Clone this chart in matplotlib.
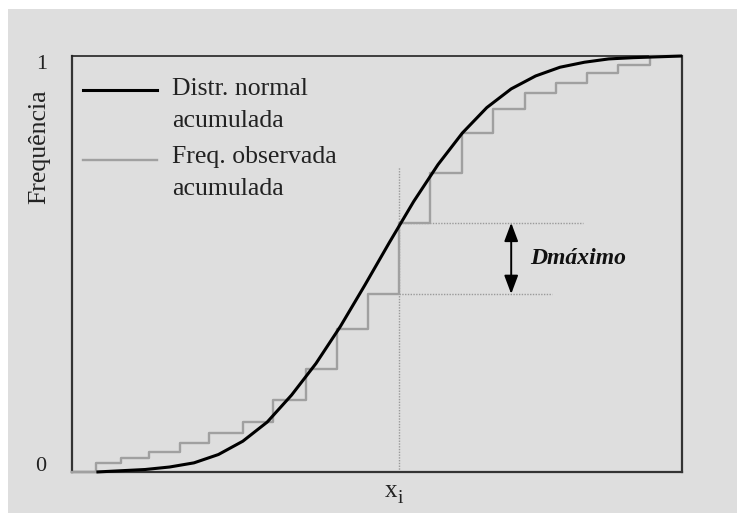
import matplotlib
matplotlib.use('Agg')
import matplotlib.pyplot as plt
from matplotlib.patches import Rectangle
from matplotlib.lines import Line2D

# curva normal acumulada
normal_x = [0.04, 0.08, 0.12, 0.16, 0.20, 0.24, 0.28, 0.32, 0.36, 0.40, 0.44, 0.48, 0.52,
            0.56, 0.60, 0.64, 0.68, 0.72, 0.76, 0.80, 0.84, 0.88, 0.92, 0.96, 1.00]
normal_y = [0.000, 0.003, 0.006, 0.012, 0.022, 0.042, 0.074, 0.120, 0.185, 0.261, 0.350, 0.449, 0.551,
            0.650, 0.739, 0.815, 0.876, 0.921, 0.952, 0.973, 0.985, 0.993, 0.996, 0.998, 1.000]

# frequência observada acumulada (degraus)
obs_x = [0.0, 0.039, 0.080, 0.126, 0.177, 0.224, 0.281, 0.330, 0.384, 0.434, 0.485,
         0.536, 0.587, 0.639, 0.690, 0.743, 0.793, 0.844, 0.895, 0.948, 0.995]
obs_y = [0.0, 0.022, 0.034, 0.048, 0.070, 0.094, 0.120, 0.173, 0.248, 0.344, 0.428,
         0.599, 0.719, 0.815, 0.873, 0.911, 0.935, 0.959, 0.978, 1.000, 1.000]

xi = 0.536            # posição de Dmáximo
d_low, d_high = 0.428, 0.599
vline_top = 0.733
upper_end, lower_end = 0.838, 0.787
arrow_x = 0.72

bg = '#dedede'
serif = ['Liberation Serif', 'DejaVu Serif']
plt.rcParams['font.family'] = serif

W, H = 737, 513
fig = plt.figure(figsize=(W / 100, H / 100), dpi=100, facecolor='white')
fig.patches.append(Rectangle((8 / W, 0), 1 - 8 / W, 1 - 9 / H, transform=fig.transFigure,
                             facecolor=bg, edgecolor='none', zorder=-10))

ax = fig.add_axes([72 / W, (H - 472) / H, 610 / W, 416 / H])
ax.set_facecolor(bg)
ax.set_xlim(0, 1)
ax.set_ylim(0, 1)
ax.set_xticks([])
ax.set_yticks([])
for side in ['left', 'bottom', 'right']:
    ax.spines[side].set_color('#333333')
    ax.spines[side].set_linewidth(1.6)
ax.spines['top'].set_color('#222222')
ax.spines['top'].set_linewidth(1.2)

# linhas pontilhadas de referência
dot = dict(color='#9a9a9a', lw=1.0, linestyle=(0, (1, 1)), zorder=2)
ax.plot([xi, xi], [0, vline_top], **dot)
ax.plot([xi, upper_end], [d_high, d_high], **dot)
ax.plot([xi, lower_end], [d_low, d_low], **dot)

ax.plot(obs_x, obs_y, drawstyle='steps-post', color='#a0a0a0', lw=1.7, zorder=3, clip_on=False)
ax.plot(normal_x, normal_y, color='black', lw=2.2, zorder=4, clip_on=False,
        solid_capstyle='butt')

ax.annotate('', xy=(arrow_x, d_high), xytext=(arrow_x, d_low),
            arrowprops=dict(arrowstyle='<|-|>,head_length=0.8,head_width=0.3', color='black',
                            lw=1.4, mutation_scale=14, shrinkA=0, shrinkB=0))
ax.text(0.751, (d_low + d_high) / 2, 'Dmáximo', fontsize=17, fontweight='bold',
        fontstyle='italic', ha='left', va='center', color='#111111')

# legenda manual
ax.add_line(Line2D([0.018, 0.139], [0.918, 0.918], transform=ax.transAxes,
                   color='black', lw=2.2))
ax.add_line(Line2D([0.018, 0.139], [0.750, 0.750], transform=ax.transAxes,
                   color='#a0a0a0', lw=1.7))
leg = dict(transform=ax.transAxes, fontsize=18.5, ha='left', va='baseline', color='#222222')
ax.text(0.164, (472 - 95) / 416, 'Distr. normal', **leg)
ax.text(0.164, (472 - 127) / 416, 'acumulada', **leg)
ax.text(0.164, (472 - 163) / 416, 'Freq. observada', **leg)
ax.text(0.164, (472 - 195) / 416, 'acumulada', **leg)

# rótulos dos eixos
ax.text(-0.054, 0.781, 'Frequência', rotation=90, transform=ax.transAxes,
        fontsize=18.5, ha='center', va='center', color='#222222')
ax.text(-0.049, 0.980, '1', transform=ax.transAxes, fontsize=16,
        ha='center', va='center', color='#222222')
ax.text(-0.052, 0.014, '0', transform=ax.transAxes, fontsize=16,
        ha='center', va='center', color='#222222')
xt = ax.get_xaxis_transform()
ax.text(xi - 0.002, -0.060, 'x', transform=xt, fontsize=18, ha='right', va='baseline',
        color='#222222')
ax.text(xi - 0.003, -0.075, 'i', transform=xt, fontsize=14, ha='left', va='baseline',
        color='#222222')

fig.savefig('out.png', dpi=100, facecolor=fig.get_facecolor())
